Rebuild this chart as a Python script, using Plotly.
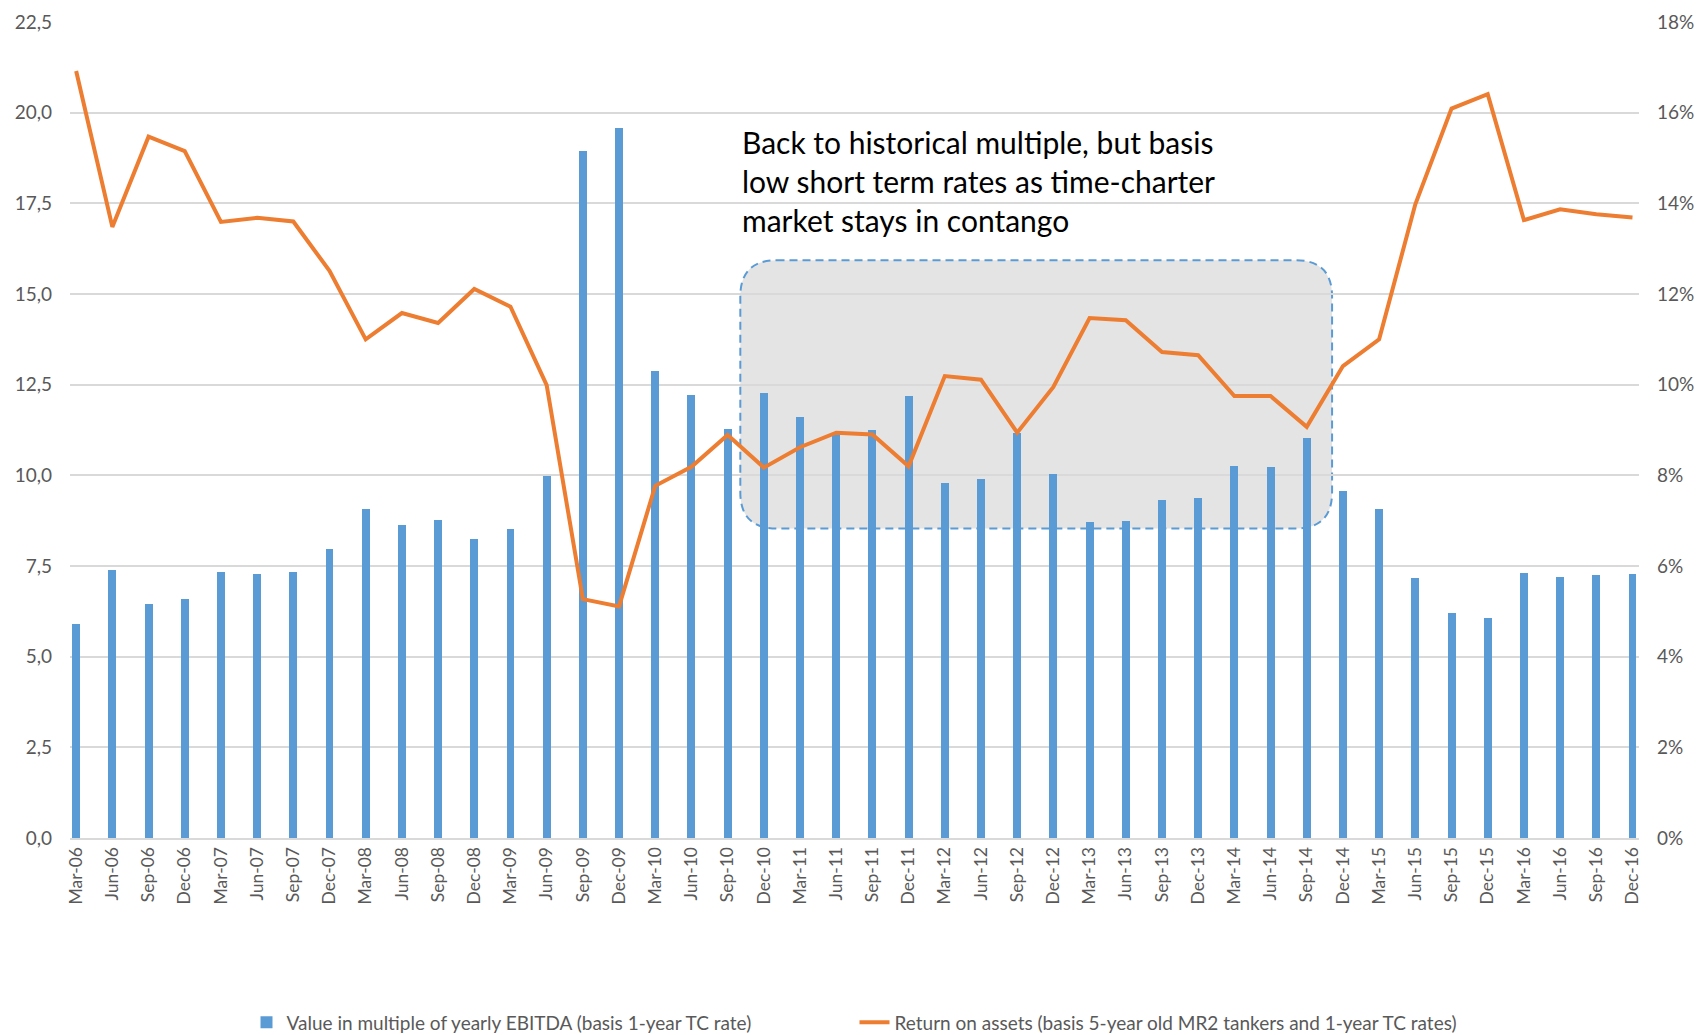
import plotly.graph_objects as go

categories = [
    "Mar-06", "Jun-06", "Sep-06", "Dec-06", "Mar-07", "Jun-07", "Sep-07", "Dec-07",
    "Mar-08", "Jun-08", "Sep-08", "Dec-08", "Mar-09", "Jun-09", "Sep-09", "Dec-09",
    "Mar-10", "Jun-10", "Sep-10", "Dec-10", "Mar-11", "Jun-11", "Sep-11", "Dec-11",
    "Mar-12", "Jun-12", "Sep-12", "Dec-12", "Mar-13", "Jun-13", "Sep-13", "Dec-13",
    "Mar-14", "Jun-14", "Sep-14", "Dec-14", "Mar-15", "Jun-15", "Sep-15", "Dec-15",
    "Mar-16", "Jun-16", "Sep-16", "Dec-16",
]

ebitda_multiple = [
    5.90, 7.40, 6.45, 6.58, 7.34, 7.29, 7.34, 7.96,
    9.07, 8.62, 8.78, 8.25, 8.53, 9.99, 18.94, 19.57,
    12.88, 12.21, 11.27, 12.26, 11.60, 11.12, 11.25, 12.19,
    9.80, 9.89, 11.18, 10.03, 8.71, 8.74, 9.31, 9.37,
    10.25, 10.23, 11.02, 9.57, 9.06, 7.16, 6.21, 6.08,
    7.32, 7.20, 7.25, 7.29,
]

return_on_assets = [
    0.1692, 0.1348, 0.1547, 0.1515, 0.1359, 0.1368, 0.1360, 0.1251,
    0.1100, 0.1158, 0.1136, 0.1211, 0.1172, 0.0999, 0.0527, 0.0511,
    0.0777, 0.0819, 0.0889, 0.0817, 0.0862, 0.0894, 0.0890, 0.0820,
    0.1019, 0.1011, 0.0894, 0.0995, 0.1147, 0.1142, 0.1072, 0.1065,
    0.0975, 0.0975, 0.0907, 0.1041, 0.1100, 0.1398, 0.1609, 0.1641,
    0.1363, 0.1387, 0.1376, 0.1369,
]

left_ticks = [0, 2.5, 5, 7.5, 10, 12.5, 15, 17.5, 20, 22.5]
right_ticks = [0, 0.02, 0.04, 0.06, 0.08, 0.10, 0.12, 0.14, 0.16, 0.18]

bar_name = "Value in multiple of yearly EBITDA (basis 1-year TC rate)"
line_name = "Return on assets (basis 5-year old MR2 tankers and 1-year TC rates)"
note_text = ("Back to historical multiple, but basis<br>"
             "low short term rates as time-charter<br>"
             "market stays in contango")

idx = list(range(len(categories)))

BLUE = "#5b9bd5"
ORANGE = "#ed7d31"
GREY_TXT = "#595959"
FONT = "Lato, 'Open Sans', sans-serif"

fig = go.Figure()
fig.add_trace(go.Bar(x=idx, y=ebitda_multiple, name=bar_name,
                     marker=dict(color=BLUE, line=dict(width=0)), width=0.22,
                     yaxis="y"))
fig.add_trace(go.Scatter(x=idx, y=return_on_assets, name=line_name, mode="lines",
                         line=dict(color=ORANGE, width=4), yaxis="y2"))

# rounded dashed box
x0, x1, y0, y1, r = 18.35, 34.70, 8.535, 15.93, 1.0
path = (f"M {x0+r},{y1} L {x1-r},{y1} Q {x1},{y1} {x1},{y1-r} "
        f"L {x1},{y0+r} Q {x1},{y0} {x1-r},{y0} L {x0+r},{y0} "
        f"Q {x0},{y0} {x0},{y0+r} L {x0},{y1-r} Q {x0},{y1} {x0+r},{y1} Z")
fig.add_shape(type="path", path=path, xref="x", yref="y", layer="below",
              fillcolor="#e4e4e4", line=dict(color=BLUE, width=2, dash="8px,5px"))

fig.add_annotation(x=x0, y=19.73, xref="x", yref="y", xanchor="left", yanchor="top",
                   text=note_text, showarrow=False, align="left",
                   font=dict(family=FONT, size=30, color="#000000"))

fig.update_layout(
    width=1697, height=1035,
    margin=dict(l=70, r=58, t=22, b=197, autoexpand=False),
    paper_bgcolor="white", plot_bgcolor="white",
    separators=",.",
    font=dict(family=FONT, color=GREY_TXT, size=16),
    showlegend=True,
    legend=dict(orientation="h", x=0.5, xanchor="center", y=-0.226, yanchor="middle",
                font=dict(size=19, color=GREY_TXT), entrywidth=563, entrywidthmode="pixels"),
    bargap=0,
    xaxis=dict(range=[-0.17, 43.18], tickmode="array", tickvals=idx, ticktext=categories,
               tickangle=-90, showgrid=False, zeroline=False, showline=True,
               linecolor="#d9d9d9", linewidth=2, ticks="", automargin=False,
               tickfont=dict(size=17.5, color=GREY_TXT)),
    yaxis=dict(range=[0, 22.5], tickmode="array", tickvals=left_ticks, tickformat=".1f",
               showgrid=True, gridcolor="#d9d9d9", gridwidth=1.5, zeroline=False,
               showline=False, ticks="", ticklabelstandoff=17, automargin=False,
               tickfont=dict(size=19, color=GREY_TXT)),
    yaxis2=dict(range=[0, 0.18], overlaying="y", side="right", tickmode="array",
                tickvals=right_ticks, tickformat=".0%", showgrid=False, zeroline=False,
                showline=False, ticks="", ticklabelstandoff=17, automargin=False,
                tickfont=dict(size=19, color=GREY_TXT)),
)

fig.write_html("out.html", config={"displayModeBar": False},
               post_script="document.body.style.margin='0';")
